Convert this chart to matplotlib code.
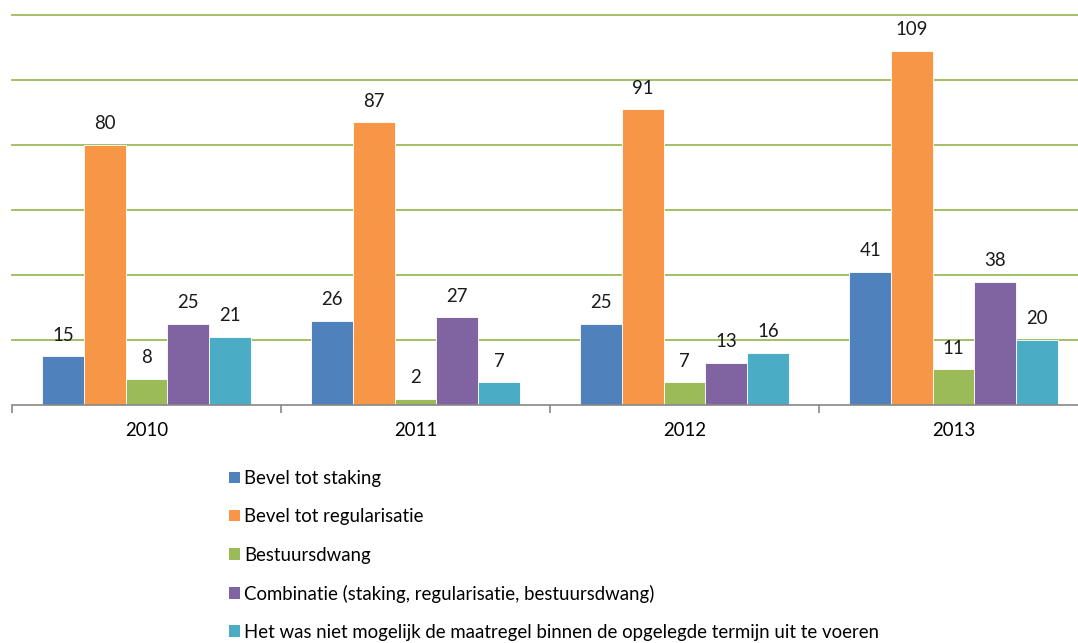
import matplotlib.pyplot as plt
from matplotlib.patches import Patch
import numpy as np

years = ["2010", "2011", "2012", "2013"]
series = [
    "Bevel tot staking",
    "Bevel tot regularisatie",
    "Bestuursdwang",
    "Combinatie (staking, regularisatie, bestuursdwang)",
    "Het was niet mogelijk de maatregel binnen de opgelegde termijn uit te voeren",
]
staking = [15, 26, 25, 41]
regularisatie = [80, 87, 91, 109]
bestuursdwang = [8, 2, 7, 11]
combinatie = [25, 27, 13, 38]
niet_mogelijk = [21, 7, 16, 20]
colors = ["#4F81BD", "#F79646", "#9BBB59", "#8064A2", "#4BACC6"]

plt.rcParams["font.family"] = ["Lato", "DejaVu Sans"]
fs = 13.4

W, H = 1078, 643
fig = plt.figure(figsize=(W / 100, H / 100), dpi=100)
ax = fig.add_axes([12 / W, (H - 405) / H, 1076 / W, 390 / H])

values = [staking, regularisatie, bestuursdwang, combinatie, niet_mogelijk]
x = np.arange(len(years))
bw = 0.155
for i, (vals, c) in enumerate(zip(values, colors)):
    pos = x + (i - 2) * bw
    ax.bar(pos, vals, bw, color=c, edgecolor="white", linewidth=0.6, zorder=3)
    for px, v in zip(pos, vals):
        ax.text(px, v + 3.9, str(v), ha="center", va="bottom", fontsize=fs,
                color="#1a1a1a", zorder=4)

ax.set_xlim(-0.5, 3.5)
ax.set_ylim(0, 120)
for g in range(20, 121, 20):
    ax.axhline(g, color="#9BBB59", linewidth=1.3, zorder=1, clip_on=False)

for s in ["left", "right", "top"]:
    ax.spines[s].set_visible(False)
ax.spines["bottom"].set_color("#888888")
ax.spines["bottom"].set_linewidth(1.2)
ax.spines["bottom"].set_zorder(5)
ax.set_yticks([])
ax.set_xticks(x)
ax.set_xticklabels(years, fontsize=fs)
ax.tick_params(axis="x", which="major", length=0, pad=12)
ax.set_xticks(np.arange(-0.5, 4, 1), minor=True)
ax.tick_params(axis="x", which="minor", length=6, color="#888888", width=1.2)

handles = [Patch(facecolor=c, edgecolor="none") for c in colors]
fig.legend(handles, series, loc="upper left", bbox_to_anchor=(222 / W, 1 - 463 / H),
           frameon=False, fontsize=fs, handlelength=0.55, handleheight=0.55,
           handletextpad=0.25, labelspacing=1.13, borderaxespad=0)

fig.savefig("out.png", dpi=100)
